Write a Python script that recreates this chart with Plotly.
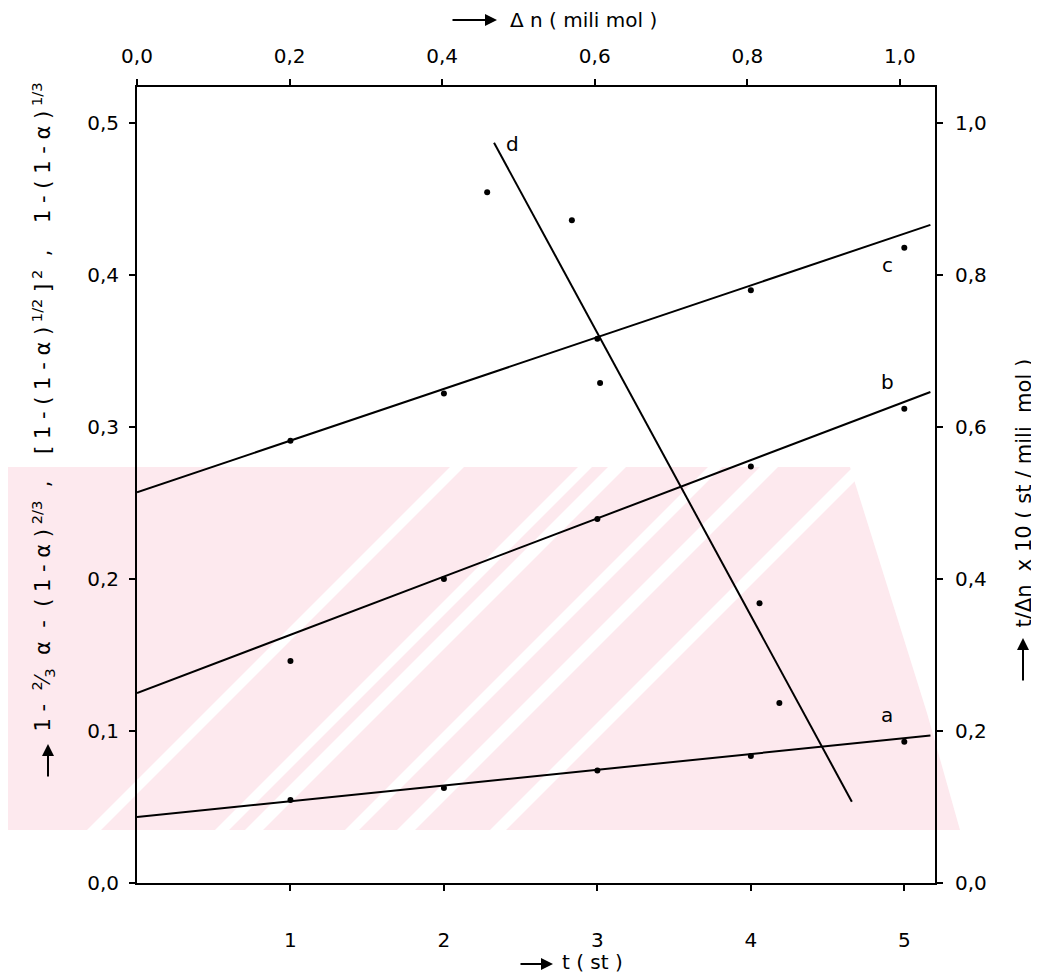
import base64
import plotly.graph_objects as go

# ---------------- data ----------------
t_points = [1, 2, 3, 4, 5]
a_points = [0.0546, 0.0625, 0.0740, 0.0836, 0.0930]
b_points = [0.146, 0.200, 0.2395, 0.274, 0.312]
c_points = [0.291, 0.322, 0.358, 0.390, 0.418]

fit_t = [0.0, 5.17]
a_fit = [0.0434, 0.097]
b_fit = [0.125, 0.323]
c_fit = [0.257, 0.433]

dn_points = [0.459, 0.570, 0.607, 0.816, 0.842]
d_points = [0.909, 0.872, 0.658, 0.368, 0.237]
d_fit_dn = [0.468, 0.937]
d_fit = [0.974, 0.107]

bottom_ticks = [1, 2, 3, 4, 5]
left_ticks = [0.0, 0.1, 0.2, 0.3, 0.4, 0.5]
right_ticks = [0.0, 0.2, 0.4, 0.6, 0.8, 1.0]
top_ticks = [0.0, 0.2, 0.4, 0.6, 0.8, 1.0]

FONT = "DejaVu Sans"
OFF = 8                      # page body margin of the html page
W, H = 1039 - OFF, 978 - OFF
# plot area in window pixels
X0, X1, Y0, Y1 = 137, 935, 87, 883
L, T = X0 - OFF, Y0 - OFF
R, B = W - (X1 - OFF), H - (Y1 - OFF)
PW, PH = X1 - X0, Y1 - Y0


def px(x):
    return (x - X0) / PW


def py(y):
    return (Y1 - y) / PH


fig = go.Figure()

for pts, fit in [(a_points, a_fit), (b_points, b_fit), (c_points, c_fit)]:
    fig.add_trace(go.Scatter(x=fit_t, y=fit, mode="lines",
                             line=dict(color="black", width=2), hoverinfo="skip"))
    fig.add_trace(go.Scatter(x=t_points, y=pts, mode="markers",
                             marker=dict(color="black", size=6)))

fig.add_trace(go.Scatter(x=d_fit_dn, y=d_fit, mode="lines", xaxis="x2", yaxis="y2",
                         line=dict(color="black", width=2), hoverinfo="skip"))
fig.add_trace(go.Scatter(x=dn_points, y=d_points, mode="markers", xaxis="x2", yaxis="y2",
                         marker=dict(color="black", size=6)))

tickfont = dict(family=FONT, size=20, color="black")
axis_common = dict(showline=True, linecolor="black", linewidth=2, showgrid=False,
                   zeroline=False, ticks="outside", ticklen=6, tickwidth=2,
                   tickcolor="black", tickfont=tickfont)

fig.update_layout(
    width=W, height=H, autosize=False,
    margin=dict(l=L, r=R, t=T, b=B),
    paper_bgcolor="white", plot_bgcolor="rgba(0,0,0,0)",
    showlegend=False, separators=",.",
    xaxis=dict(range=[0, 5.2], tickvals=bottom_ticks, ticktext=[str(v) for v in bottom_ticks],
               ticklabelstandoff=32, **axis_common),
    yaxis=dict(range=[0, 0.5237], tickvals=left_ticks, tickformat=".1f",
               ticklabelstandoff=6, **axis_common),
    xaxis2=dict(range=[0, 1.046], overlaying="x", side="top", anchor="y2",
                tickvals=top_ticks, tickformat=".1f", ticklabelstandoff=8, **axis_common),
    yaxis2=dict(range=[0, 1.0474], overlaying="y", side="right", anchor="x",
                tickvals=right_ticks, tickformat=".1f", ticklabelstandoff=8, **axis_common),
)

# curve labels
lab_font = dict(family=FONT, size=20, color="black")
for txt, xx, yy in [("a", 4.89, 0.1105), ("b", 4.89, 0.3296), ("c", 4.89, 0.4066), ("d", 2.45, 0.486)]:
    fig.add_annotation(x=xx, y=yy, xref="x", yref="y", text=txt, showarrow=False, font=lab_font)

title_font = dict(family=FONT, size=20, color="black")
big_title_font = dict(family=FONT, size=21, color="black")
arrow = dict(text="", showarrow=True, arrowhead=2, arrowsize=1.2, arrowwidth=2,
             arrowcolor="black", xref="paper", yref="paper")
# top title
fig.add_annotation(x=px(508), y=py(20), xref="paper", yref="paper", xanchor="left",
                   yanchor="middle", text="Δ n ( mili mol )", showarrow=False, font=title_font)
fig.add_annotation(x=px(497), y=py(20), ax=-46, ay=0, **arrow)
# bottom title
fig.add_annotation(x=px(560), y=py(962), xref="paper", yref="paper", xanchor="left",
                   yanchor="middle", text="t ( st )", showarrow=False, font=title_font)
fig.add_annotation(x=px(553), y=py(964), ax=-34, ay=0, **arrow)
# left title
left_txt = ("1 -  <sup>2</sup>⁄<sub>3</sub>  α  -  ( 1 - α )<sup> 2/3</sup>  ,    "
            "[ 1 - ( 1 - α )<sup> 1/2</sup> ]<sup> 2</sup>  ,    1 - ( 1 - α )<sup> 1/3</sup>")
fig.add_annotation(x=px(42), y=py(734), xref="paper", yref="paper", yanchor="bottom",
                   xanchor="center", text=left_txt, textangle=-90, showarrow=False,
                   font=big_title_font)
fig.add_annotation(x=px(48), y=py(744), ax=0, ay=34, **arrow)
# right title
fig.add_annotation(x=px(1023), y=py(630), xref="paper", yref="paper", yanchor="bottom",
                   xanchor="center", text="t/Δn  x 10 ( st / mili  mol )", textangle=-90,
                   showarrow=False, font=big_title_font)
fig.add_annotation(x=px(1023), y=py(638), ax=0, ay=44, **arrow)

# faint watermark in the background (decoration, drawn as an svg image, window pixels)
pink = "#fde9ee"
shapes_svg = [f'<rect x="0" y="467" width="960" height="363" fill="{pink}"/>']
# white "/" stripes: x + y = const, given by (const, width)
for c, w in [(917, 14), (1045, 14), (1075, 18), (1175, 14), (1227, 18), (1320, 16)]:
    pts = [(c - 830, 830), (c - 830 + w, 830), (c - 467 + w, 467), (c - 467, 467)]
    shapes_svg.append('<polygon points="' + " ".join(f"{a},{b}" for a, b in pts) + '" fill="white"/>')
# white corner at upper right of the band
shapes_svg.append('<polygon points="850,467 961,467 961,830 960,830 927,713" fill="white"/>')
svg = (f'<svg xmlns="http://www.w3.org/2000/svg" width="{W}" height="{H}" viewBox="0 0 {W} {H}">'
       f'<g transform="translate({-OFF},{-OFF})">' + "".join(shapes_svg) + '</g></svg>')
src = "data:image/svg+xml;base64," + base64.b64encode(svg.encode()).decode()
fig.add_layout_image(source=src, xref="paper", yref="paper", x=-L / PW, y=1 + T / PH,
                     sizex=W / PW, sizey=H / PH, xanchor="left", yanchor="top",
                     sizing="stretch", layer="below")

fig.write_html("out.html")
